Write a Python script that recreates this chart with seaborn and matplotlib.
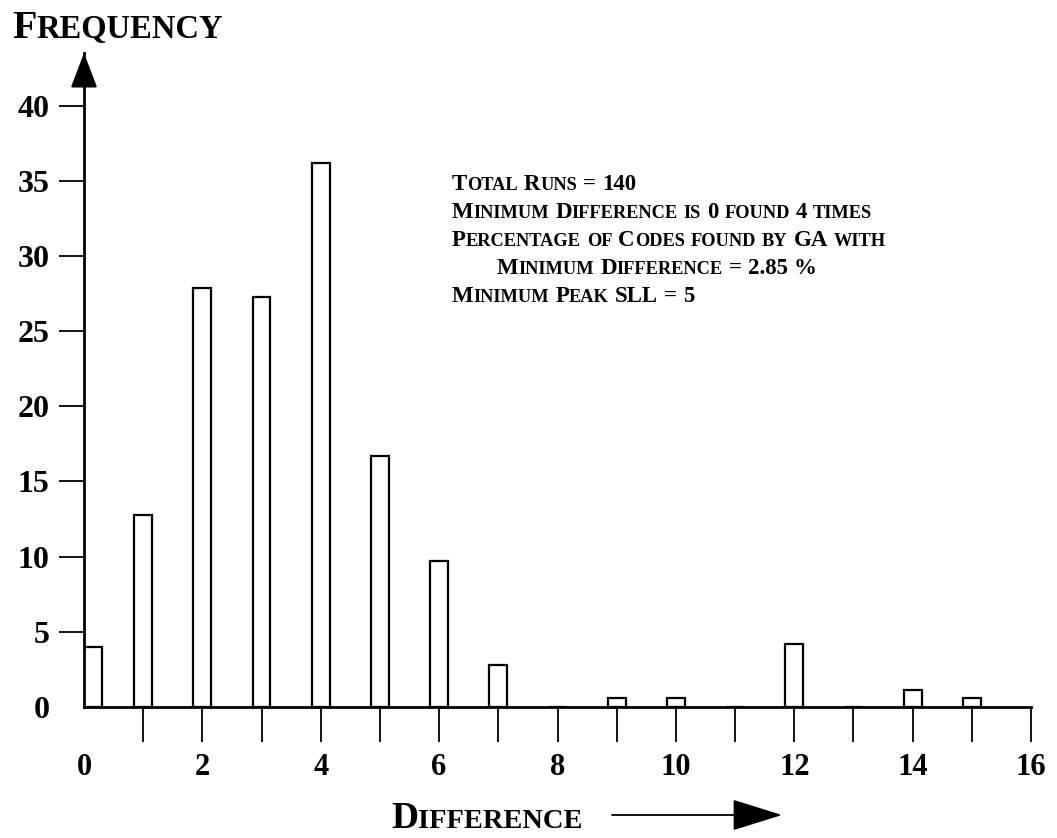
import numpy as np
import pandas as pd
import seaborn as sns
import matplotlib.pyplot as plt

# ---- data ----
difference = list(range(16))
frequency = [4.0, 12.8, 27.9, 27.3, 36.2, 16.7, 9.7, 2.8, 0.0, 0.6, 0.6, 0.0, 4.2, 0.0, 1.1, 0.6]
y_ticks = [0, 5, 10, 15, 20, 25, 30, 35, 40]
x_ticks = list(range(17))
x_tick_labels = [str(t) if t % 2 == 0 else "" for t in x_ticks]
y_title = "Frequency"
x_title = "Difference"
notes = [
    "Total Runs = 140",
    "Minimum Difference is 0 found 4 times",
    "Percentage of Codes found by GA with",
    "Minimum Difference = 2.85 %",
    "Minimum Peak SLL = 5",
]

W, H, DPI = 1057, 838, 100
sns.set_theme(style="white")
plt.rcParams["font.family"] = ["Liberation Serif", "DejaVu Serif"]

fig = plt.figure(figsize=(W / DPI, H / DPI), dpi=DPI)
ax = fig.add_axes([84 / W, (H - 707) / H, (1031 - 84) / W, (707 - 53) / H])

df = pd.DataFrame({"difference": difference, "frequency": frequency})
sns.barplot(data=df, x="difference", y="frequency", native_scale=True, width=0.3,
            color="white", edgecolor="black", linewidth=1.6, errorbar=None, ax=ax)
# first bar sits against the axis
for p in ax.patches:
    if p.get_x() < 0:
        p.set_x(0)

ax.set_xlim(0, 16)
ax.set_ylim(0, 43.5)
ax.set_xlabel("")
ax.set_ylabel("")
for side in ["top", "right"]:
    ax.spines[side].set_visible(False)
for side in ["left", "bottom"]:
    ax.spines[side].set_color("black")
    ax.spines[side].set_linewidth(2.0)

ax.set_xticks(x_ticks)
ax.set_xticklabels(x_tick_labels, fontsize=22, fontweight="bold")
ax.set_yticks(y_ticks)
ax.set_yticklabels([str(t) for t in y_ticks], fontsize=23, fontweight="bold")
ax.tick_params(axis="x", direction="out", length=25, width=1.3, pad=8, colors="black", bottom=True)
ax.tick_params(axis="y", direction="out", length=18, width=1.3, pad=7, colors="black", left=True)
ax.xaxis.get_major_ticks()[0].tick1line.set_visible(False)
ax.yaxis.get_major_ticks()[0].tick1line.set_visible(False)

# arrow head on the vertical axis
ax.annotate("", xy=(0, 43.5), xytext=(0, 41.6), xycoords="data",
            arrowprops=dict(arrowstyle="-|>,head_length=1.1,head_width=0.42", mutation_scale=20,
                            color="black", lw=1.5, shrinkA=0, shrinkB=0),
            annotation_clip=False)
# arrow next to the horizontal title
ax.annotate("", xy=(782 / W, 1 - 815 / H), xytext=(612 / W, 1 - 815 / H),
            xycoords="figure fraction", textcoords="figure fraction",
            arrowprops=dict(arrowstyle="-|>,head_length=1.6,head_width=0.5", mutation_scale=20,
                            color="black", lw=1.3, shrinkA=0, shrinkB=0),
            annotation_clip=False)

renderer = fig.canvas.get_renderer()


def small_caps(x_px, base_px, text, big, small):
    """Draw text in small caps: lowercase letters become smaller capitals."""
    groups = []
    for ch in text:
        kind = "space" if ch == " " else ("small" if ch.islower() else "big")
        if groups and groups[-1][1] == kind and kind != "space":
            groups[-1][0] += ch
        else:
            groups.append([ch, kind])
    x = x_px
    for run, kind in groups:
        if kind == "space":
            x += big * 0.26 * DPI / 72
            continue
        t = fig.text(x / W, 1 - base_px / H, run.upper(), fontsize=big if kind == "big" else small,
                     fontweight="bold", ha="left", va="baseline", color="black")
        x = t.get_window_extent(renderer).x1


small_caps(12, 38, y_title, 29, 23.5)
small_caps(391, 828, x_title, 27, 20.5)

note_pos = [(452, 190), (452, 218), (452, 246), (497, 274), (452, 302)]
for (nx, ny), line in zip(note_pos, notes):
    small_caps(nx, ny, line, 16.5, 13.2)

fig.savefig("out.png", dpi=DPI)
